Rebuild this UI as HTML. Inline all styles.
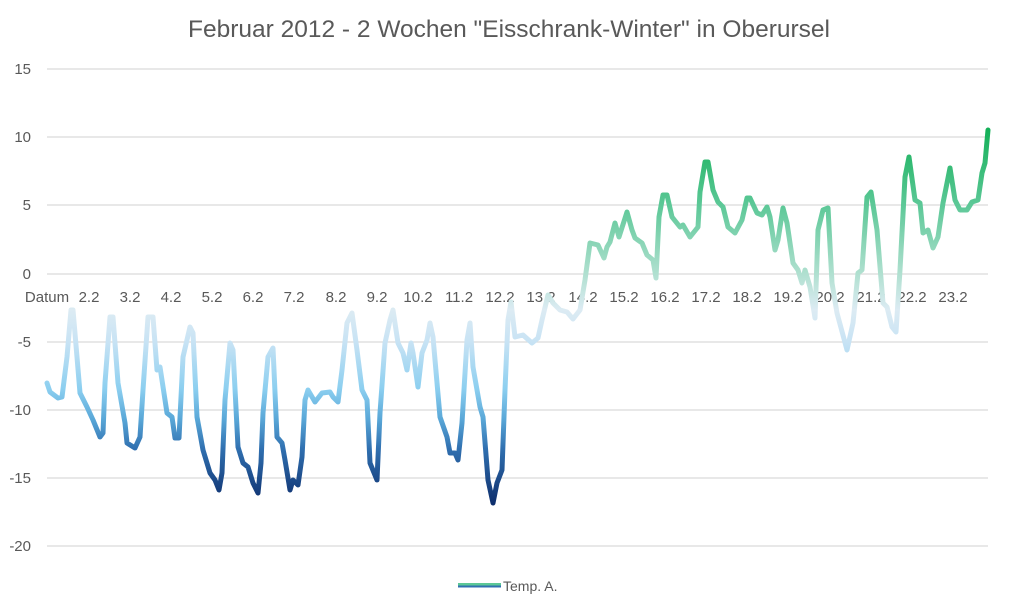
<!DOCTYPE html>
<html><head><meta charset="utf-8"><style>
html,body{margin:0;padding:0;background:#fff;}
svg{display:block;font-family:"Liberation Sans",sans-serif;}
</style></head><body>
<svg width="1016" height="609" viewBox="0 0 1016 609">
<defs>
<linearGradient id="g" gradientUnits="userSpaceOnUse" x1="0" y1="130" x2="0" y2="505">
<stop offset="0" stop-color="#14b058"/>
<stop offset="0.2" stop-color="#5cc897"/>
<stop offset="0.384" stop-color="#b0e0d0"/>
<stop offset="0.48" stop-color="#dcebf3"/>
<stop offset="0.565" stop-color="#c8e3f4"/>
<stop offset="0.69" stop-color="#8ccff0"/>
<stop offset="0.77" stop-color="#5aa8d8"/>
<stop offset="0.85" stop-color="#3070b0"/>
<stop offset="1" stop-color="#0d2d6b"/>
</linearGradient>
</defs>
<text x="509" y="37" text-anchor="middle" font-size="24.5" fill="#595959">Februar 2012 - 2 Wochen "Eisschrank-Winter" in Oberursel</text>
<g stroke="#d9d9d9" stroke-width="1.3">
<line x1="47" x2="988" y1="69" y2="69"/><line x1="47" x2="988" y1="137" y2="137"/>
<line x1="47" x2="988" y1="205" y2="205"/><line x1="47" x2="988" y1="274" y2="274"/>
<line x1="47" x2="988" y1="342" y2="342"/><line x1="47" x2="988" y1="410" y2="410"/>
<line x1="47" x2="988" y1="478" y2="478"/><line x1="47" x2="988" y1="546" y2="546"/>
</g>
<g font-size="15" fill="#595959" text-anchor="end">
<text x="31" y="74">15</text><text x="31" y="142">10</text><text x="31" y="210">5</text>
<text x="31" y="279">0</text><text x="31" y="347">-5</text><text x="31" y="415">-10</text>
<text x="31" y="483">-15</text><text x="31" y="551">-20</text>
</g>
<g font-size="15" fill="#595959" text-anchor="middle">
<text x="47" y="302">Datum</text>
<text x="89" y="302">2.2</text><text x="130" y="302">3.2</text><text x="171" y="302">4.2</text>
<text x="212" y="302">5.2</text><text x="253" y="302">6.2</text><text x="294" y="302">7.2</text>
<text x="336" y="302">8.2</text><text x="377" y="302">9.2</text><text x="418" y="302">10.2</text>
<text x="459" y="302">11.2</text><text x="500" y="302">12.2</text><text x="541" y="302">13.2</text>
<text x="583" y="302">14.2</text><text x="624" y="302">15.2</text><text x="665" y="302">16.2</text>
<text x="706" y="302">17.2</text><text x="747" y="302">18.2</text><text x="788" y="302">19.2</text>
<text x="830" y="302">20.2</text><text x="871" y="302">21.2</text><text x="912" y="302">22.2</text>
<text x="953" y="302">23.2</text>
</g>
<polyline fill="none" stroke="url(#g)" stroke-width="5" stroke-linejoin="round" stroke-linecap="round" points="
47,383 50,392 58,398 62,397 67,357 71,310 73,310 77,357 80,393 87,407 93,420 100,437 103,433 105,383 110,317 113,317 118,383 125,423 127,443 135,448 140,437 143,390 148,317 153,317 157,370 160,367 167,413 172,417 175,438 179,438 183,357 190,327 193,333 197,417 203,450 210,473 215,480 219,490 222,473 225,400 230,343 233,350 238,447 243,463 248,467 253,483 258,493 261,463 263,413 268,357 273,348 277,437 282,443 285,460 290,490 293,480 298,485 302,457 305,400 308,390 315,402 322,393 330,392 333,397 338,402 342,370 347,323 352,313 357,350 362,390 367,400 370,463 377,480 380,413 385,343 390,320 393,310 398,343 403,353 407,370 411,343 413,353 418,387 422,353 427,340 430,323 433,337 440,417 447,437 450,453 455,453 458,460 462,423 467,340 470,323 473,367 480,407 483,417 488,480 493,503 497,483 502,470 505,390 508,320 511,302 515,337 523,335 532,343 538,338 542,320 548,295 553,303 560,310 567,312 573,319 580,310 585,280 590,243 598,245 604,258 607,247 610,242 615,223 619,237 627,212 632,230 635,238 642,243 647,255 653,260 656,278 659,217 663,195 667,195 672,217 680,227 683,225 690,237 698,227 700,192 705,162 708,162 713,190 718,202 723,207 728,227 735,233 742,220 747,198 750,198 757,213 762,215 767,207 770,217 775,250 778,240 783,208 787,223 793,263 798,270 802,283 805,270 810,287 815,318 818,230 823,210 828,208 832,283 837,313 847,350 853,323 858,273 862,270 867,197 871,192 877,230 883,303 887,307 892,327 896,332 900,270 905,177 909,157 915,200 920,203 923,233 928,230 933,248 938,237 943,203 950,168 955,200 960,210 967,210 972,202 978,200 982,173 985,163 988,130"/>
<rect x="458" y="583" width="43" height="2.5" fill="#5cc897"/>
<rect x="458" y="585.5" width="43" height="2" fill="#3070b0"/>
<text x="503" y="591" font-size="14" fill="#595959">Temp. A.</text>
</svg>
</body></html>
